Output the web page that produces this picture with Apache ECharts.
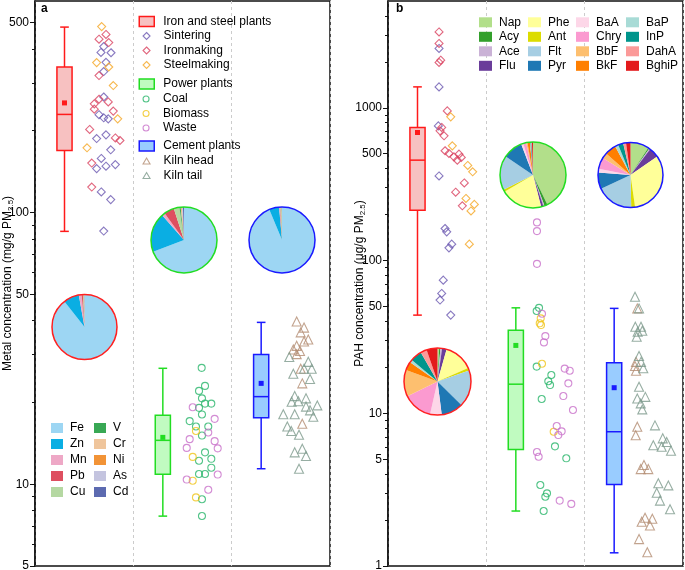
<!DOCTYPE html>
<html><head><meta charset="utf-8">
<script src="https://cdn.jsdelivr.net/npm/echarts@6/dist/echarts.min.js"></script>
<style>html,body{margin:0;padding:0;background:#fff}#c{width:685px;height:570px}</style>
</head><body><div id="c"></div>
<script>
const FONT = '"Liberation Sans", Arial, Helvetica, sans-serif';
const GROUPS = ['Iron and steel plants', 'Power plants', 'Cement plants'];

// Box statistics [min, Q1, median, Q3, max] and means
const METAL_BOX = [[85.2, 169, 229.5, 343, 481], [7.63, 10.87, 14.5, 17.95, 26.7], [11.4, 17.55, 21.0, 30.0, 39.4]];
const METAL_MEAN = [253, 14.87, 23.5];
const PAH_BOX = [[43.9, 213, 454, 743, 1370], [2.29, 5.80, 15.5, 34.9, 49], [1.22, 3.42, 7.57, 21.4, 48.6]];
const PAH_MEAN = [689, 27.8, 14.7];

// Axis ticks
const A_MAJOR = [5, 10, 50, 100, 500];
const A_MINOR = [6, 7, 8, 9, 20, 30, 40, 60, 70, 80, 90, 200, 300, 400];
const B_MAJOR = [1, 5, 10, 50, 100, 500, 1000];
const B_MINOR = [2, 3, 4, 6, 7, 8, 9, 20, 30, 40, 60, 70, 80, 90, 200, 300, 400, 600, 700, 800, 900, 2000, 3000, 4000];

// Panel a scatter values (mg/g) and within-group horizontal jitter
const A_SINTER = [408, 388, 387, 357, 330, 266, 229, 223, 221, 193, 187, 170, 158, 150, 148, 145, 119, 111.5, 85.4];
const A_SINTER_X = [0.699, 0.671, 0.773, 0.722, 0.699, 0.699, 0.651, 0.699, 0.745, 0.722, 0.627, 0.770, 0.674, 0.817, 0.722, 0.627, 0.674, 0.770, 0.699];
const A_IRONM = [452, 434, 422, 319, 261, 255, 251, 240, 236, 202, 188, 184, 152, 124];
const A_IRONM_X = [0.722, 0.651, 0.750, 0.651, 0.651, 0.745, 0.603, 0.603, 0.796, 0.556, 0.817, 0.864, 0.577, 0.577];
const A_STEEL = [483, 356, 343, 293, 221, 173];
const A_STEEL_X = [0.678, 0.627, 0.750, 0.796, 0.841, 0.529];
const A_COAL = [26.8, 23.0, 22.05, 20.7, 19.8, 19.8, 19.1, 18.06, 17.07, 16.3, 16.3, 15.1, 13.1, 12.4, 12.2, 11.5, 10.9, 10.9, 8.8, 7.64];
const A_COAL_X = [0.695, 0.729, 0.668, 0.698, 0.729, 0.793, 0.668, 0.698, 0.573, 0.637, 0.762, 0.698, 0.729, 0.793, 0.668, 0.793, 0.668, 0.729, 0.698, 0.698];
const A_BIO = [15.7, 12.6, 10.3, 8.94];
const A_BIO_X = [0.637, 0.604, 0.604, 0.637];
const A_WASTE = [19.2, 17.4, 15.5, 14.65, 14.4, 13.6, 13.55, 10.85, 10.4, 9.54];
const A_WASTE_X = [0.604, 0.827, 0.762, 0.573, 0.827, 0.543, 0.858, 0.858, 0.543, 0.762];
const A_HEAD = [39.7, 37.7, 36.2, 34.1, 33.5, 32.3, 31.3, 30.9, 30.1, 26.6, 23.5, 16.7];
const A_HEAD_X = [0.661, 0.736, 0.702, 0.779, 0.736, 0.661, 0.627, 0.695, 0.661, 0.702, 0.718, 0.718];
const A_TAIL = [29.4, 28.2, 26.6, 26.6, 25.5, 24.4, 21.1, 20.1, 20.2, 20.7, 19.3, 19.5, 18.7, 18.1, 18.1, 17.7, 16.3, 15.7, 15.2, 13.1, 13.5, 12.7, 11.4];
const A_TAIL_X = [0.586, 0.779, 0.736, 0.814, 0.627, 0.797, 0.641, 0.610, 0.678, 0.756, 0.756, 0.871, 0.797, 0.525, 0.641, 0.830, 0.566, 0.606, 0.685, 0.641, 0.718, 0.756, 0.685];

// Panel b scatter values (µg/g)
const B_SINTER = [2444, 1370, 761, 358, 162, 154, 128, 121, 74.4, 60.9, 55.1, 43.9];
const B_SINTER_X = [0.519, 0.519, 0.512, 0.519, 0.580, 0.597, 0.648, 0.620, 0.562, 0.546, 0.529, 0.638];
const B_IRONM = [3138, 2636, 2049, 1980, 954, 743, 706, 655, 523, 502, 477, 497, 454, 473, 322, 280, 228];
const B_IRONM_X = [0.519, 0.519, 0.536, 0.519, 0.603, 0.546, 0.529, 0.570, 0.580, 0.620, 0.671, 0.722, 0.705, 0.745, 0.776, 0.688, 0.756];
const B_STEEL = [872, 563, 419, 381, 255, 233, 211, 128];
const B_STEEL_X = [0.638, 0.654, 0.811, 0.861, 0.793, 0.878, 0.844, 0.827];
const B_COAL = [49.0, 46.7, 20.2, 17.8, 16.2, 15.3, 12.4, 6.07, 5.07, 3.39, 2.99, 2.84, 2.29];
const B_COAL_X = [0.536, 0.512, 0.512, 0.661, 0.630, 0.648, 0.563, 0.698, 0.813, 0.549, 0.617, 0.600, 0.583];
const B_BIO = [41.8, 38.8, 37.8, 21.1, 7.57];
const B_BIO_X = [0.553, 0.543, 0.556, 0.566, 0.685];
const B_WASTE = [177.6, 155.8, 95.1, 44.8, 32.0, 29.1, 19.6, 19.0, 15.7, 12.96, 10.5, 8.25, 7.61, 7.20, 5.57, 5.19, 2.68, 2.55];
const B_WASTE_X = [0.515, 0.515, 0.515, 0.566, 0.600, 0.586, 0.797, 0.848, 0.834, 0.783, 0.881, 0.716, 0.766, 0.732, 0.515, 0.532, 0.746, 0.864];
const B_HEAD = [48.6, 21.7, 20.4, 19.0, 8.16, 7.17, 4.58, 4.31, 4.31, 2.07, 2.04, 1.95, 1.84, 1.50, 1.23];
const B_HEAD_X = [0.535, 0.522, 0.512, 0.522, 0.535, 0.519, 0.603, 0.570, 0.647, 0.614, 0.688, 0.580, 0.664, 0.553, 0.637];
const B_TAIL = [57.9, 48.6, 36.8, 36.8, 34.2, 34.7, 31.7, 23.7, 21.7, 19.7, 14.9, 12.5, 12.8, 11.6, 10.6, 8.33, 6.17, 6.85, 6.48, 6.04, 5.68, 3.48, 3.37, 3.02, 2.68, 2.35];
const B_TAIL_X = [0.512, 0.553, 0.515, 0.573, 0.539, 0.586, 0.529, 0.553, 0.573, 0.596, 0.553, 0.535, 0.617, 0.570, 0.586, 0.715, 0.698, 0.794, 0.834, 0.783, 0.878, 0.749, 0.851, 0.733, 0.766, 0.868];

// Pie compositions (%)
const METALS = ['Fe', 'Zn', 'Mn', 'Pb', 'Cu', 'V', 'Cr', 'Ni', 'As', 'Cd'];
const METAL_PIE_IRON = [89.4, 7.8, 1.4, 0.6, 0.2, 0.1, 0.1, 0.2, 0.1, 0.1];
const METAL_PIE_POWER = [69.2, 19.3, 1.5, 5.0, 2.8, 0.6, 0.3, 0.3, 0.5, 0.5];
const METAL_PIE_CEMENT = [93.75, 4.9, 0.3, 0.3, 0.4, 0.1, 0.1, 0.1, 0.05, 0.05];
const PAHS = ['Nap', 'Acy', 'Ace', 'Flu', 'Phe', 'Ant', 'Flt', 'Pyr', 'BaA', 'Chry', 'BbF', 'BkF', 'BaP', 'InP', 'DahA', 'BghiP'];
const PAH_PIE_IRON = [0.8, 0.6, 0.8, 2.2, 14, 1.25, 17.8, 10.6, 5.6, 14.2, 12.8, 4.2, 1.4, 5.6, 3, 5.3];
const PAH_PIE_POWER = [42.9, 1.5, 0.6, 1.1, 20.6, 1.1, 16.9, 9.7, 1, 1.5, 0.6, 1.2, 0.3, 0.4, 0.3, 0.5];
const PAH_PIE_CEMENT = [9.2, 0.6, 0.5, 5, 32.2, 1.9, 18.3, 8.1, 1.9, 5.6, 2.8, 5.6, 1.7, 2.5, 1.4, 2.2];

// Styles
const METAL_COLORS = ['#9dd6f3', '#0aaee3', '#eea8c6', '#de4f60', '#b5d8a2', '#38a854', '#efc59c', '#f29336', '#c4c4df', '#5c6ab0'];
const PAH_COLORS = ['#b2df8a', '#33a02c', '#cab2d6', '#6a3d9a', '#ffff99', '#dcdc00', '#a6cee3', '#1f78b4', '#fdd7e8', '#fb9ad0', '#fdbf6f', '#ff7f00', '#a8dbd6', '#00958c', '#fb9a99', '#e31a1c'];
const BOX_STROKE = ['#ff1a1a', '#22dd22', '#1a1aff'];
const BOX_FILL = ['#f7c1c1', '#c0fbc0', '#99ccff'];
const OUTLINE = ['#ff2020', '#22dd22', '#1a1aff'];
const C = {sinter: '#6a58b0', ironm: '#d9415f', steel: '#f5a623', coal: '#28b56a', bio: '#f0c419', waste: '#c86fc9', head: '#b38c72', tail: '#7d9a8c'};

function pts(vals, xs, g) { return vals.map((v, i) => [g + xs[i], v]); }

function renderBox(params, api) {
  const x = api.value(0);
  const g = api.value(7);
  const mn = api.value(1), q1 = api.value(2), md = api.value(3), q3 = api.value(4), mx = api.value(5), mean = api.value(6);
  const hw = 0.077, cw = 0.044;
  const P = (dx, v) => api.coord([x + dx, v]);
  const stroke = BOX_STROKE[g], fill = BOX_FILL[g];
  const ls = {stroke: stroke, lineWidth: 1.5, fill: null};
  const L = (a, b) => ({type: 'line', shape: {x1: a[0], y1: a[1], x2: b[0], y2: b[1]}, style: ls});
  const tl = P(-hw, q3), br = P(hw, q1), m = P(0, mean);
  return {type: 'group', children: [
    L(P(0, q3), P(0, mx)), L(P(-cw, mx), P(cw, mx)),
    L(P(0, q1), P(0, mn)), L(P(-cw, mn), P(cw, mn)),
    {type: 'rect', shape: {x: tl[0], y: tl[1], width: br[0] - tl[0], height: br[1] - tl[1]}, style: {fill: fill, stroke: stroke, lineWidth: 1.5}},
    L(P(-hw, md), P(hw, md)),
    {type: 'rect', shape: {x: m[0] - 2.5, y: m[1] - 2.5, width: 5, height: 5}, style: {fill: stroke}}
  ]};
}

function boxSeries(stats, means, xi, yi) {
  return stats.map((b, g) => ({
    type: 'custom', name: GROUPS[g], xAxisIndex: xi, yAxisIndex: yi, renderItem: renderBox, silent: true, z: 2,
    itemStyle: {color: BOX_FILL[g], borderColor: BOX_STROKE[g]},
    encode: {x: 0, y: [1, 2, 3, 4, 5]},
    data: [[g + 0.3, b[0], b[1], b[2], b[3], b[4], means[g], g]]
  }));
}

function sc(name, vals, xs, g, sym, size, col, xi, yi) {
  return {type: 'scatter', name: name, xAxisIndex: xi, yAxisIndex: yi, symbol: sym, symbolSize: size, silent: true, z: 3,
    itemStyle: {color: 'rgba(0,0,0,0)', borderColor: col, borderWidth: 1.1}, data: pts(vals, xs, g)};
}

function pie(center, r, names, vals, colors, outline) {
  return [
    {type: 'pie', center: center, radius: r, startAngle: 90, clockwise: true, color: colors, silent: true, z: 5,
      label: {show: false}, labelLine: {show: false}, itemStyle: {borderWidth: 0},
      data: names.map((n, i) => ({name: n, value: vals[i]}))},
    {type: 'pie', center: center, radius: r, silent: true, z: 6, label: {show: false}, labelLine: {show: false},
      itemStyle: {color: 'rgba(0,0,0,0)', borderColor: outline, borderWidth: 1.5},
      data: [{name: 'outline-' + outline + center[0], value: 1}]}
  ];
}

const TXT = {fontSize: 12, color: '#000', fontFamily: FONT, padding: [0, 0, 0, 4]};
const TXT_SYM = Object.assign({}, TXT, {padding: [0, 0, 0, 8.5]});
const TXT_SW = Object.assign({}, TXT, {padding: [0, 0, 0, 2]});
function legend(left, top, items, o) {
  return Object.assign({show: true, orient: 'vertical', left: left, top: top, padding: 0, itemGap: 2.5,
    itemWidth: 15, itemHeight: 10, selectedMode: false, textStyle: TXT, data: items}, o || {});
}
const boxItem = g => ({name: GROUPS[g], icon: 'rect', itemStyle: {color: BOX_FILL[g], borderColor: BOX_STROKE[g], borderWidth: 1.5}});
const symItem = (n, icon, col) => ({name: n, icon: icon, itemStyle: {color: 'rgba(0,0,0,0)', borderColor: col, borderWidth: 1.1}});

function yAxes(grid, min, max, major, minor, name, gap) {
  return [
    {gridIndex: grid, type: 'log', logBase: 10, min: min, max: max, position: 'left',
      axisLine: {show: true, lineStyle: {color: '#111', width: 1.5}},
      axisTick: {show: true, length: 5, customValues: major, lineStyle: {color: '#111', width: 1}},
      axisLabel: {show: true, customValues: major, fontSize: 12, color: '#000', margin: 6, fontFamily: FONT, formatter: v => String(v)},
      splitLine: {show: false},
      name: name, nameLocation: 'middle', nameRotate: 90, nameGap: gap, nameMoveOverlap: false,
      nameTextStyle: {fontSize: 12, color: '#000', fontFamily: FONT, rich: {s: {fontSize: 8, fontFamily: FONT, color: '#000', padding: [7, 0, 0, 0]}}}},
    {gridIndex: grid, type: 'log', logBase: 10, min: min, max: max, position: 'left', offset: 0,
      axisLine: {show: false},
      axisTick: {show: true, length: 3, customValues: minor, lineStyle: {color: '#111', width: 1}},
      axisLabel: {show: false}, splitLine: {show: false}}
  ];
}
function xAxis(grid) {
  return {gridIndex: grid, type: 'value', min: 0, max: 3, interval: 1,
    axisLine: {show: false}, axisTick: {show: false}, axisLabel: {show: false},
    splitLine: {show: true, lineStyle: {color: '#cccccc', width: 1, type: [3, 3]}}};
}

const series = [].concat(
  boxSeries(METAL_BOX, METAL_MEAN, 0, 0),
  boxSeries(PAH_BOX, PAH_MEAN, 1, 2),
  [
    sc('Sintering', A_SINTER, A_SINTER_X, 0, 'diamond', 8, C.sinter, 0, 0),
    sc('Ironmaking', A_IRONM, A_IRONM_X, 0, 'diamond', 8, C.ironm, 0, 0),
    sc('Steelmaking', A_STEEL, A_STEEL_X, 0, 'diamond', 8, C.steel, 0, 0),
    sc('Coal', A_COAL, A_COAL_X, 1, 'circle', 7, C.coal, 0, 0),
    sc('Biomass', A_BIO, A_BIO_X, 1, 'circle', 7, C.bio, 0, 0),
    sc('Waste', A_WASTE, A_WASTE_X, 1, 'circle', 7, C.waste, 0, 0),
    sc('Kiln head', A_HEAD, A_HEAD_X, 2, 'triangle', 9, C.head, 0, 0),
    sc('Kiln tail', A_TAIL, A_TAIL_X, 2, 'triangle', 9, C.tail, 0, 0),
    sc('Sintering', B_SINTER, B_SINTER_X, 0, 'diamond', 8, C.sinter, 1, 2),
    sc('Ironmaking', B_IRONM, B_IRONM_X, 0, 'diamond', 8, C.ironm, 1, 2),
    sc('Steelmaking', B_STEEL, B_STEEL_X, 0, 'diamond', 8, C.steel, 1, 2),
    sc('Coal', B_COAL, B_COAL_X, 1, 'circle', 7, C.coal, 1, 2),
    sc('Biomass', B_BIO, B_BIO_X, 1, 'circle', 7, C.bio, 1, 2),
    sc('Waste', B_WASTE, B_WASTE_X, 1, 'circle', 7, C.waste, 1, 2),
    sc('Kiln head', B_HEAD, B_HEAD_X, 2, 'triangle', 9, C.head, 1, 2),
    sc('Kiln tail', B_TAIL, B_TAIL_X, 2, 'triangle', 9, C.tail, 1, 2)
  ],
  pie([84.5, 327], 32.5, METALS, METAL_PIE_IRON, METAL_COLORS, OUTLINE[0]),
  pie([184, 240], 33, METALS, METAL_PIE_POWER, METAL_COLORS, OUTLINE[1]),
  pie([282, 240], 33, METALS, METAL_PIE_CEMENT, METAL_COLORS, OUTLINE[2]),
  pie([437.5, 381.5], 33.5, PAHS, PAH_PIE_IRON, PAH_COLORS, OUTLINE[0]),
  pie([533, 175], 33, PAHS, PAH_PIE_POWER, PAH_COLORS, OUTLINE[1]),
  pie([630.5, 175], 32.5, PAHS, PAH_PIE_CEMENT, PAH_COLORS, OUTLINE[2])
);

const swatch = n => ({name: n, icon: 'rect'});
const option = {
  animation: false,
  backgroundColor: '#ffffff',
  textStyle: {fontFamily: FONT},
  title: [
    {text: 'a', left: 41, top: 3, padding: 0, textStyle: {fontSize: 12, fontWeight: 'bold', color: '#000', fontFamily: FONT}},
    {text: 'b', left: 396, top: 3, padding: 0, textStyle: {fontSize: 12, fontWeight: 'bold', color: '#000', fontFamily: FONT}}
  ],
  grid: [
    {left: 35, top: 1, width: 295, height: 565, show: true, borderColor: '#111', borderWidth: 1.5, backgroundColor: 'rgba(0,0,0,0)', containLabel: false, outerBoundsMode: 'none'},
    {left: 388, top: 1, width: 295, height: 565, show: true, borderColor: '#111', borderWidth: 1.5, backgroundColor: 'rgba(0,0,0,0)', containLabel: false, outerBoundsMode: 'none'}
  ],
  xAxis: [xAxis(0), xAxis(1)],
  yAxis: [].concat(
    yAxes(0, 5, 600, A_MAJOR, A_MINOR, 'Metal concentration (mg/g PM{s|2.5})', 20),
    yAxes(1, 1, 5000, B_MAJOR, B_MINOR, 'PAH concentration (μg/g PM{s|2.5})', 21)
  ),
  legend: [
    legend(138.5, 15.5, [boxItem(0)]),
    legend(142.5, 30, [symItem('Sintering', 'diamond', C.sinter), symItem('Ironmaking', 'diamond', C.ironm), symItem('Steelmaking', 'diamond', C.steel)], {itemWidth: 7, itemHeight: 7, textStyle: TXT_SYM}),
    legend(138.5, 78, [boxItem(1)]),
    legend(142.5, 93, [symItem('Coal', 'circle', C.coal), symItem('Biomass', 'circle', C.bio), symItem('Waste', 'circle', C.waste)], {itemWidth: 7, itemHeight: 6, textStyle: TXT_SYM}),
    legend(138.5, 140, [boxItem(2)]),
    legend(142.5, 155, [symItem('Kiln head', 'triangle', C.head), symItem('Kiln tail', 'triangle', C.tail)], {itemWidth: 7, itemHeight: 6, textStyle: TXT_SYM}),
    legend(51, 422, METALS.slice(0, 5).map(swatch), {itemWidth: 12, itemHeight: 10, itemGap: 4, textStyle: TXT_SW}),
    legend(94, 422, METALS.slice(5).map(swatch), {itemWidth: 12, itemHeight: 10, itemGap: 4, textStyle: TXT_SW}),
    legend(479, 16.3, PAHS.slice(0, 4).map(swatch), {itemWidth: 13, itemHeight: 10, textStyle: TXT_SW}),
    legend(528, 16.3, PAHS.slice(4, 8).map(swatch), {itemWidth: 13, itemHeight: 10, textStyle: TXT_SW}),
    legend(576, 16.3, PAHS.slice(8, 12).map(swatch), {itemWidth: 13, itemHeight: 10, textStyle: TXT_SW}),
    legend(626, 16.3, PAHS.slice(12).map(swatch), {itemWidth: 13, itemHeight: 10, textStyle: TXT_SW})
  ],
  series: series
};
const chart = echarts.init(document.getElementById('c'), null, {renderer: 'canvas'});
chart.setOption(option);
</script></body></html>
